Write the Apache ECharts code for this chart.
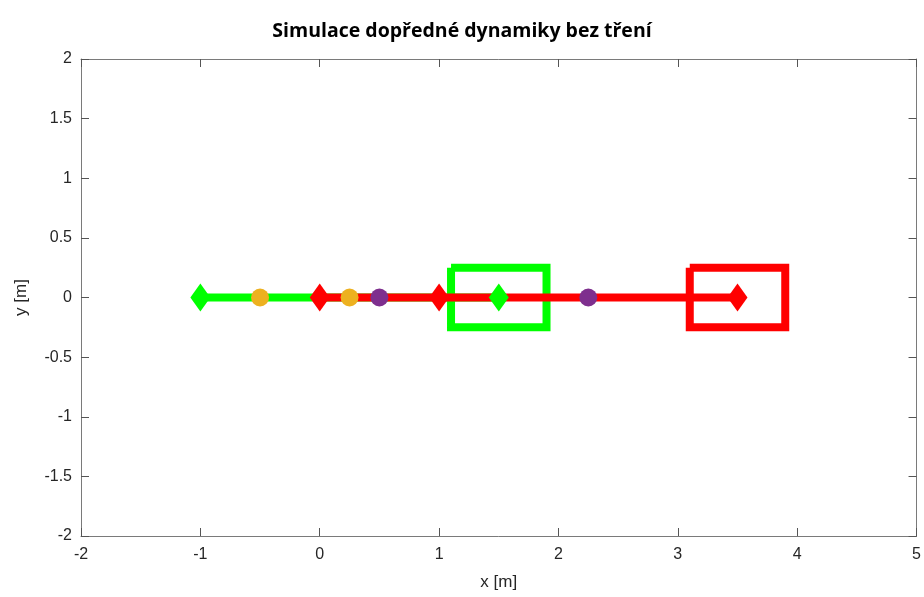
<!DOCTYPE html>
<html>
<head>
<meta charset="utf-8">
<script src="https://cdn.jsdelivr.net/npm/echarts@6/dist/echarts.min.js"></script>
<style>html,body{margin:0;padding:0;background:#fff;}#c{width:924px;height:597px;}</style>
</head>
<body>
<div id="c"></div>
<script>
const titleText = 'Simulace dopředné dynamiky bez tření';
const xName = 'x [m]';
const yName = 'y [m]';
const xRange = [-2, 5];
const yRange = [-2, 2];

// marker positions (x, y)
const orangeDots = [[-0.5, 0], [0.25, 0]];
const purpleDots = [[0.5, 0], [2.25, 0]];
const greenPath = [[-1, 0], [1.5, 0]];
const greenDiamonds = [[-1, 0], [1.5, 0]];
const greenBox = [[1.1, 0.25], [1.9, 0.25], [1.9, -0.25], [1.1, -0.25], [1.1, 0.25]];
const redPath = [[0, 0], [3.5, 0]];
const redDiamonds = [[0, 0], [1, 0], [3.5, 0]];
const redBox = [[3.1, 0.25], [3.9, 0.25], [3.9, -0.25], [3.1, -0.25], [3.1, 0.25]];

const GREEN = '#00ff00', RED = '#ff0000', ORANGE = '#EDB120', PURPLE = '#7E2F8E';
const axisCol = '#262626';
const font = 'Liberation Sans, Helvetica, Arial, sans-serif';

const chart = echarts.init(document.getElementById('c'), null, {renderer: 'canvas'});

function xAx(pos, show) {
  return {
    type: 'value', position: pos, min: xRange[0], max: xRange[1], interval: 1,
    name: show ? xName : '', nameLocation: 'middle', nameGap: 38,
    nameTextStyle: {fontFamily: font, fontSize: 17, color: axisCol},
    axisLine: {show: true, onZero: false, lineStyle: {color: '#7a7a7a', width: 1}},
    axisTick: {show: true, inside: true, length: 8, lineStyle: {color: '#555'}},
    axisLabel: {show: show, margin: 11, fontFamily: font, fontSize: 16, color: axisCol},
    splitLine: {show: false}
  };
}
function yAx(pos, show) {
  return {
    type: 'value', position: pos, min: yRange[0], max: yRange[1], interval: 0.5,
    name: show ? yName : '', nameLocation: 'middle', nameGap: 51,
    nameTextStyle: {fontFamily: font, fontSize: 17, color: axisCol},
    axisLine: {show: true, onZero: false, lineStyle: {color: '#7a7a7a', width: 1}},
    axisTick: {show: true, inside: true, length: 8, lineStyle: {color: '#555'}},
    axisLabel: {show: show, margin: 9, fontFamily: font, fontSize: 16, color: axisCol},
    splitLine: {show: false}
  };
}

function pts(data, color, size, symbol) {
  return {type: 'scatter', data: data, symbol: symbol, symbolSize: size,
    itemStyle: {color: color, opacity: 1}, silent: true, z: 2};
}
function path(data, color) {
  return {type: 'line', data: data, showSymbol: false, symbol: 'none',
    lineStyle: {color: color, width: 8, cap: 'butt', join: 'miter'}, silent: true, z: 2};
}

chart.setOption({
  animation: false,
  backgroundColor: '#ffffff',
  title: {text: titleText, left: 'center', top: 16,
    textStyle: {fontFamily: 'Open Sans, Lato, sans-serif', fontWeight: 'bold', fontSize: 19.5, color: '#000'}},
  grid: {left: 81, right: 7, top: 59, bottom: 61},
  xAxis: [xAx('bottom', true), xAx('top', false)],
  yAxis: [yAx('left', true), yAx('right', false)],
  series: [
    pts(orangeDots, ORANGE, 18, 'circle'),
    pts(purpleDots, PURPLE, 18, 'circle'),
    path(greenPath, GREEN),
    pts(greenDiamonds, GREEN, [20, 28], 'diamond'),
    path(greenBox, GREEN),
    path(redPath, RED),
    pts(redDiamonds, RED, [20, 28], 'diamond'),
    path(redBox, RED)
  ]
});
</script>
</body>
</html>
